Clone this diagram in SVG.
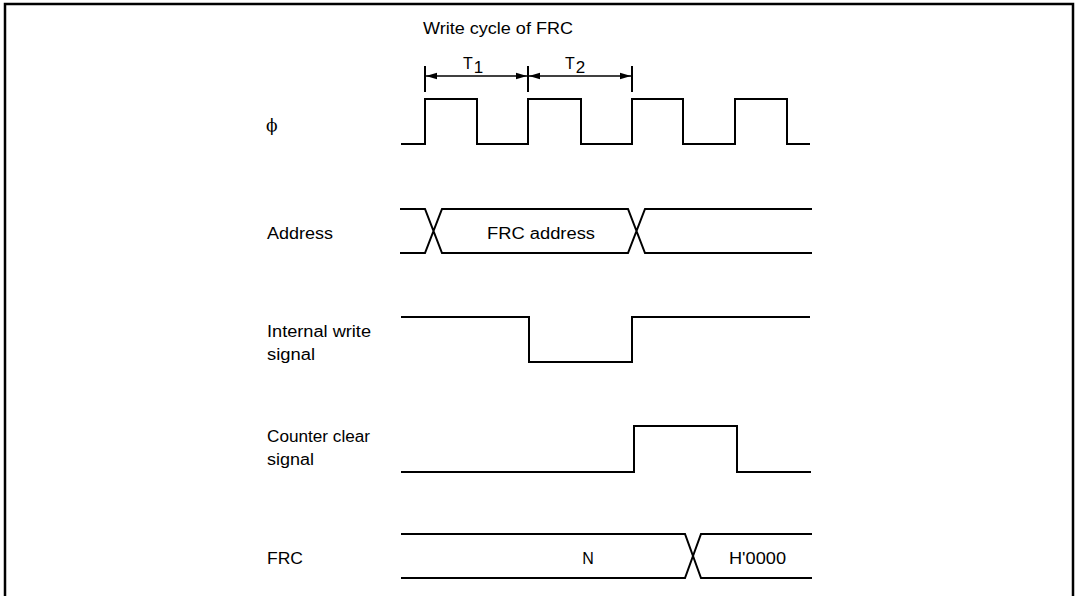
<svg xmlns="http://www.w3.org/2000/svg" width="1076" height="596" viewBox="0 0 1076 596">
<style>
.w{fill:none;stroke:#000;stroke-width:2;stroke-linejoin:miter}
.t{font-family:"Liberation Sans",Arial,sans-serif;font-size:16px;fill:#000}
</style>
<defs>
<marker id="ah" markerWidth="12" markerHeight="8" refX="11" refY="4" orient="auto-start-reverse" markerUnits="userSpaceOnUse">
<path d="M0,0.8 L11,4 L0,7.2 Z" fill="#000"/>
</marker>
</defs>
<rect width="1076" height="596" fill="#fff"/>
<path d="M5,596 V4 H1073 V596" fill="none" stroke="#000" stroke-width="2.5"/>

<g id="header">
<text class="t" x="423" y="34" textLength="150" lengthAdjust="spacingAndGlyphs">Write cycle of FRC</text>
<text class="t" x="463" y="69" font-size="18">T<tspan dx="1" dy="4" font-size="17">1</tspan></text>
<text class="t" x="565" y="69" font-size="18">T<tspan dx="1" dy="4" font-size="17">2</tspan></text>
</g>
<g id="connectors">
<path class="w" d="M425,66 V92 M528,66 V92 M632,66 V92" stroke-width="1.5"/>
<line x1="426" y1="76" x2="527" y2="76" stroke="#000" stroke-width="1.5" marker-start="url(#ah)" marker-end="url(#ah)"/>
<line x1="529" y1="76" x2="631" y2="76" stroke="#000" stroke-width="1.5" marker-start="url(#ah)" marker-end="url(#ah)"/>
</g>

<g id="phi">
<text x="266" y="131" font-family="'DejaVu Serif',serif" font-size="17" fill="#000">ϕ</text>
<path class="w" d="M401,144 H425 V99 H477 V144 H528 V99 H581 V144 H632 V99 H683 V144 H735 V99 H787 V144 H810"/>
</g>

<g id="address">
<text class="t" x="267" y="239" textLength="66" lengthAdjust="spacingAndGlyphs">Address</text>
<path class="w" d="M400,209 H425 L442,253 H628 L645,209 H812 M400,253 H425 L442,209 H628 L645,253 H812"/>
<text class="t" x="487" y="239" textLength="108" lengthAdjust="spacingAndGlyphs">FRC address</text>
</g>

<g id="internal-write">
<text class="t" x="267" y="337" textLength="104" lengthAdjust="spacingAndGlyphs">Internal write</text>
<text class="t" x="267" y="360" textLength="48" lengthAdjust="spacingAndGlyphs">signal</text>
<path class="w" d="M401,317 H529 V362 H632 V317 H810"/>
</g>

<g id="counter-clear">
<text class="t" x="267" y="442" textLength="103" lengthAdjust="spacingAndGlyphs">Counter clear</text>
<text class="t" x="267" y="465" textLength="47" lengthAdjust="spacingAndGlyphs">signal</text>
<path class="w" d="M401,472 H634 V426 H737 V472 H811"/>
</g>

<g id="frc">
<text class="t" x="267" y="564" textLength="36" lengthAdjust="spacingAndGlyphs">FRC</text>
<path class="w" d="M401,534 H685 L701,578 H812 M401,578 H685 L701,534 H812"/>
<text class="t" x="588" y="564" text-anchor="middle">N</text>
<text class="t" x="729" y="564" textLength="57" lengthAdjust="spacingAndGlyphs">H'0000</text>
</g>
</svg>
